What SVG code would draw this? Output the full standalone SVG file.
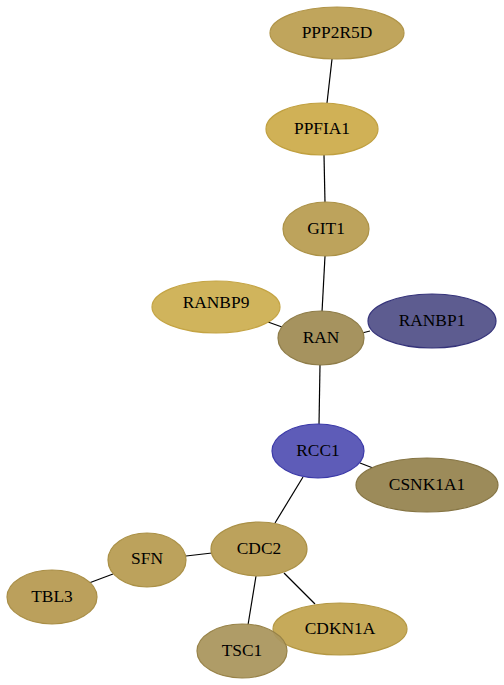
<svg xmlns="http://www.w3.org/2000/svg" width="504" height="685" viewBox="0 0 504 685">
<style>
.n ellipse{stroke-width:1.2}
.n text{font-family:"Liberation Serif","Times New Roman",serif;font-size:17.4px;fill:#000;text-anchor:middle;dominant-baseline:central}
#edges line{stroke:#000;stroke-width:1.2}
</style>
<rect width="504" height="685" fill="#fff"/>
<g id="edges">
<line x1="332" y1="59" x2="327" y2="103"/>
<line x1="324" y1="155" x2="325" y2="203"/>
<line x1="325" y1="256" x2="322" y2="312"/>
<line x1="268" y1="322" x2="282" y2="327"/>
<line x1="362" y1="333" x2="370" y2="331"/>
<line x1="320" y1="365" x2="319" y2="425"/>
<line x1="360" y1="463" x2="373" y2="468"/>
<line x1="303" y1="477" x2="275" y2="523"/>
<line x1="212" y1="553" x2="186" y2="556"/>
<line x1="113" y1="574" x2="89" y2="583"/>
<line x1="256" y1="576" x2="248" y2="625"/>
<line x1="284" y1="573" x2="315" y2="604"/>
</g>
<g id="PPP2R5D" class="n"><ellipse cx="337" cy="33" rx="67" ry="26" fill="#c0a55c" stroke="#b09448"/><text x="337" y="32">PPP2R5D</text></g>
<g id="PPFIA1" class="n"><ellipse cx="322" cy="129" rx="56" ry="26" fill="#d0b156" stroke="#c0a040"/><text x="322" y="128">PPFIA1</text></g>
<g id="GIT1" class="n"><ellipse cx="326" cy="229" rx="43" ry="27" fill="#bda35c" stroke="#ab9146"/><text x="326" y="228">GIT1</text></g>
<g id="RANBP9" class="n"><ellipse cx="216" cy="307" rx="64" ry="26" fill="#d0b45c" stroke="#c4a444"/><text x="216" y="302">RANBP9</text></g>
<g id="RAN" class="n"><ellipse cx="321" cy="338" rx="43" ry="27" fill="#a6935f" stroke="#8e7c48"/><text x="321" y="337">RAN</text></g>
<g id="RANBP1" class="n"><ellipse cx="432" cy="321" rx="64" ry="27" fill="#5d5c90" stroke="#35337a"/><text x="432" y="320">RANBP1</text></g>
<g id="RCC1" class="n"><ellipse cx="318" cy="451" rx="46" ry="27" fill="#5e5cb8" stroke="#3b39a8"/><text x="318" y="450">RCC1</text></g>
<g id="CSNK1A1" class="n"><ellipse cx="427" cy="485" rx="71" ry="27" fill="#9c8b5a" stroke="#867544"/><text x="427" y="484">CSNK1A1</text></g>
<g id="CDC2" class="n"><ellipse cx="259" cy="549" rx="48" ry="27" fill="#bca25c" stroke="#aa9046"/><text x="259" y="548">CDC2</text></g>
<g id="SFN" class="n"><ellipse cx="147" cy="560" rx="39" ry="27" fill="#bca25c" stroke="#aa9046"/><text x="147" y="558">SFN</text></g>
<g id="TBL3" class="n"><ellipse cx="52" cy="597" rx="45" ry="27" fill="#bba05c" stroke="#a98e46"/><text x="52" y="596">TBL3</text></g>
<g id="CDKN1A" class="n"><ellipse cx="340" cy="629" rx="67" ry="26" fill="#c6aa5a" stroke="#b49844"/><text x="340" y="628">CDKN1A</text></g>
<g id="TSC1" class="n"><ellipse cx="242" cy="651" rx="45" ry="27" fill="#ab975f" fill-opacity="0.95" stroke="#978248"/><text x="242" y="650">TSC1</text></g>
</svg>
